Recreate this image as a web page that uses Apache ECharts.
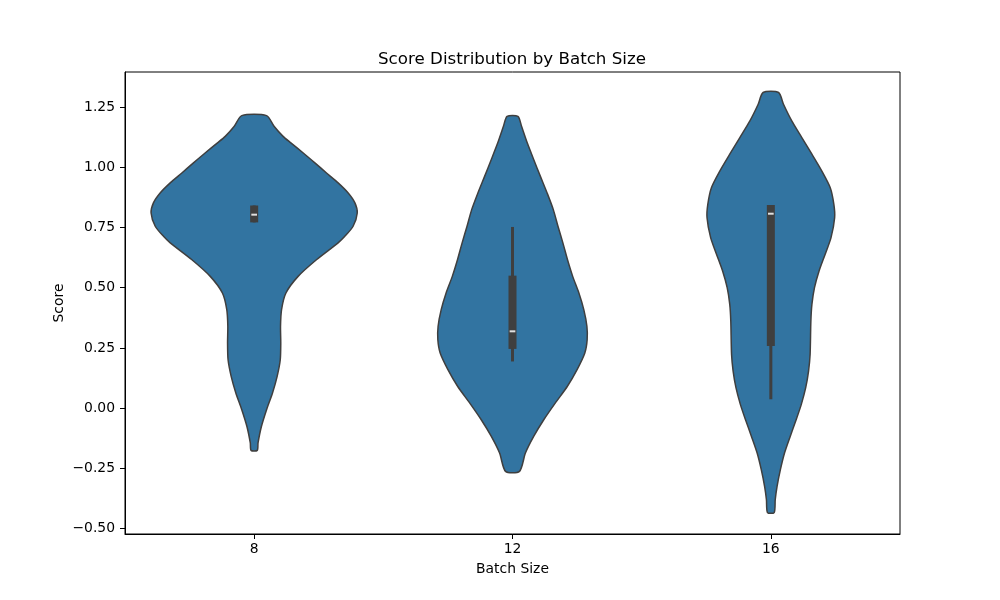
<!DOCTYPE html>
<html><head><meta charset="utf-8">
<script src="https://cdn.jsdelivr.net/npm/echarts@6/dist/echarts.min.js"></script>
<style>html,body{margin:0;padding:0;background:#fff}#c{width:1000px;height:600px}</style>
</head><body><div id="c"></div>
<script>
const categories = ['8', '12', '16'];

// violin outlines: score value and half-width (fraction of category width)
const profileY8 = [1.214,1.170,1.128,1.101,1.059,1.018,0.976,0.935,0.893,0.852,0.810,0.755,0.713,0.686,0.616,0.547,0.478,0.409,0.340,0.271,0.201,0.132,0.063,-0.006,-0.076,-0.144,-0.175];
const profileW8 = [0.048,0.077,0.112,0.142,0.190,0.235,0.280,0.325,0.364,0.390,0.399,0.383,0.351,0.325,0.241,0.170,0.123,0.106,0.102,0.103,0.101,0.089,0.071,0.048,0.028,0.015,0.012];

const profileY12 = [1.211,1.170,1.101,1.032,0.962,0.893,0.824,0.755,0.686,0.616,0.547,0.478,0.409,0.340,0.284,0.229,0.160,0.090,0.022,-0.048,-0.117,-0.186,-0.262];
const profileW12 = [0.021,0.035,0.057,0.082,0.108,0.134,0.158,0.176,0.195,0.213,0.233,0.257,0.276,0.288,0.289,0.280,0.250,0.212,0.166,0.121,0.082,0.050,0.027];

const profileY16 = [1.310,1.261,1.192,1.123,1.054,0.985,0.915,0.846,0.791,0.708,0.638,0.570,0.500,0.431,0.362,0.223,0.154,0.085,0.016,-0.048,-0.117,-0.186,-0.255,-0.325,-0.380,-0.433];
const profileW16 = [0.030,0.049,0.081,0.120,0.159,0.197,0.230,0.244,0.247,0.233,0.210,0.187,0.169,0.159,0.155,0.152,0.146,0.135,0.118,0.098,0.075,0.053,0.037,0.024,0.017,0.013];

// inner box statistics
const q1Vals = [0.771, 0.246, 0.258];
const q3Vals = [0.841, 0.550, 0.843];
const medianVals = [0.803, 0.319, 0.807];
const whiskerLow = [0.771, 0.194, 0.037];
const whiskerHigh = [0.841, 0.752, 0.843];

const yTicks = [-0.5, -0.25, 0, 0.25, 0.5, 0.75, 1.0, 1.25];

const profiles = [
  { y: profileY8, w: profileW8 },
  { y: profileY12, w: profileW12 },
  { y: profileY16, w: profileW16 }
];

const FILL = '#3274a1';
const EDGE = '#3f3f3f';
const FONT = 'DejaVu Sans';

function renderViolin(params, api) {
  const i = api.value(0);
  const band = api.size([1, 0])[0];
  const p = profiles[i];
  const right = [], left = [];
  for (let k = 0; k < p.y.length; k++) {
    const c = api.coord([i, p.y[k]]);
    right.push([c[0] + p.w[k] * band, c[1]]);
    left.push([c[0] - p.w[k] * band, c[1]]);
  }
  const pts = right.concat(left.slice().reverse());
  const cx = api.coord([i, 0])[0];
  const yq1 = api.coord([i, q1Vals[i]])[1];
  const yq3 = api.coord([i, q3Vals[i]])[1];
  const ymed = api.coord([i, medianVals[i]])[1];
  const ywl = api.coord([i, whiskerLow[i]])[1];
  const ywh = api.coord([i, whiskerHigh[i]])[1];
  const boxW = 0.031 * band;
  const medW = 0.022 * band;
  return {
    type: 'group',
    children: [
      { type: 'polygon', shape: { points: pts, smooth: 0.25 },
        style: { fill: FILL, stroke: EDGE, lineWidth: 1.5, lineJoin: 'round' } },
      { type: 'line', shape: { x1: cx, y1: ywh, x2: cx, y2: ywl },
        style: { stroke: EDGE, lineWidth: 3 } },
      { type: 'rect', shape: { x: cx - boxW / 2, y: yq3, width: boxW, height: yq1 - yq3 },
        style: { fill: EDGE } },
      { type: 'line', shape: { x1: cx - medW / 2, y1: ymed, x2: cx + medW / 2, y2: ymed },
        style: { stroke: '#e0e0e0', lineWidth: 2 } }
    ]
  };
}

const chart = echarts.init(document.getElementById('c'));
chart.setOption({
  animation: false,
  backgroundColor: '#fff',
  title: {
    text: 'Score Distribution by Batch Size',
    left: 512, top: 51, textAlign: 'center', padding: 0,
    textStyle: { fontFamily: FONT, fontSize: 16.7, fontWeight: 'normal', color: '#000' }
  },
  grid: { left: 125, right: 100, top: 72, bottom: 66, show: true, borderColor: '#000', borderWidth: 1, backgroundColor: 'transparent' },
  xAxis: {
    type: 'category', data: categories, boundaryGap: true,
    name: 'Batch Size', nameLocation: 'middle', nameGap: 28, nameMoveOverlap: false,
    nameTextStyle: { fontFamily: FONT, fontSize: 13.9, color: '#000' },
    axisLine: { show: true, onZero: false, lineStyle: { color: '#000', width: 1 } },
    axisTick: { show: true, alignWithLabel: true, length: 5, lineStyle: { color: '#000', width: 1 } },
    axisLabel: { fontFamily: FONT, fontSize: 13.9, color: '#000', margin: 8 },
    splitLine: { show: false }
  },
  yAxis: {
    type: 'value', min: -0.522, max: 1.395,
    name: 'Score', nameLocation: 'middle', nameGap: 59, nameMoveOverlap: false,
    nameTextStyle: { fontFamily: FONT, fontSize: 13.9, color: '#000' },
    axisLine: { show: true, lineStyle: { color: '#000', width: 1 } },
    axisTick: { show: true, length: 5, customValues: yTicks, lineStyle: { color: '#000', width: 1 } },
    axisLabel: { fontFamily: FONT, fontSize: 13.9, color: '#000', margin: 10, customValues: yTicks,
      formatter: v => (v < 0 ? '\u2212' : '') + Math.abs(v).toFixed(2) },
    splitLine: { show: false }
  },
  series: [{
    type: 'custom',
    renderItem: renderViolin,
    data: categories.map((c, i) => [i]),
    encode: { x: 0 },
    clip: true
  }]
});
</script>
</body></html>
